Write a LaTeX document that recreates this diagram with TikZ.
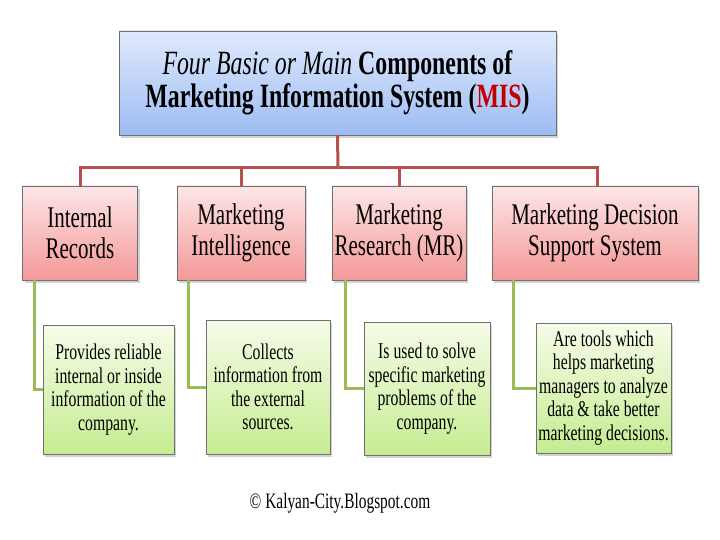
\documentclass[tikz,border=0pt]{standalone}
\usepackage{fontspec}
\setmainfont[FakeStretch=0.7]{Liberation Serif}
\usepackage{tikz}
\usetikzlibrary{shadows}
\definecolor{head_top}{RGB}{224,234,252}
\definecolor{head_bot}{RGB}{157,188,244}
\definecolor{comp_top}{RGB}{253,230,230}
\definecolor{comp_bot}{RGB}{244,152,152}
\definecolor{info_top}{RGB}{246,252,232}
\definecolor{info_bot}{RGB}{198,236,146}
\definecolor{edge_gray}{RGB}{112,112,112}
\definecolor{edge_red}{RGB}{184,80,77}
\definecolor{edge_green}{RGB}{155,187,89}
\definecolor{mis_red}{RGB}{192,0,0}

\begin{document}
\begin{tikzpicture}[x=1pt,y=-1pt,line join=miter]
    \tikzstyle{box}=[draw=edge_gray, line width=0.8pt, inner sep=0pt, align=center, text=black, drop shadow={shadow xshift=2pt,shadow yshift=-3pt,opacity=0.35}]
    \tikzstyle{head}=[style=box, top color=head_top, bottom color=head_bot, minimum width=437pt, minimum height=104pt, font=\fontsize{34}{33}\selectfont]
    \tikzstyle{comp}=[style=box, top color=comp_top, bottom color=comp_bot, minimum height=94pt, font=\fontsize{30}{31}\selectfont]
    \tikzstyle{info}=[style=box, top color=info_top, bottom color=info_bot, font=\fontsize{22.5}{23.5}\selectfont]
    \tikzstyle{bus}=[edge_red, line width=3pt]
    \tikzstyle{link}=[edge_green, line width=3pt]

    \useasboundingbox (0,0) rectangle (720,540);

    \node[head] (mis) at (337.5,83) {\textit{Four Basic or Main} \textbf{Components of}\\\textbf{Marketing Information System (\textcolor{mis_red}{MIS})}};

    \node[comp,minimum width=115pt] (r1) at (80,233)  {Internal\\Records};
    \node[comp,minimum width=128pt] (r2) at (241,233) {Marketing\\Intelligence};
    \node[comp,minimum width=134pt] (r3) at (399,233) {Marketing\\Research (MR)};
    \node[comp,minimum width=206pt] (r4) at (595,233) {Marketing Decision\\Support System};

    \node[info,minimum width=131pt,minimum height=129pt] (g1) at (108.5,389.5) {Provides reliable\\internal or inside\\information of the\\company.};
    \node[info,minimum width=124pt,minimum height=134pt] (g2) at (268,387)   {Collects\\information from\\the external\\sources.};
    \node[info,minimum width=126pt,minimum height=133pt] (g3) at (427,388.5) {Is used to solve\\specific marketing\\problems of the\\company.};
    \node[info,minimum width=135pt,minimum height=130pt] (g4) at (603.5,388) {Are tools which\\helps marketing\\managers to analyze\\data \& take better\\marketing decisions.};

    \node[font=\fontsize{22}{24}\selectfont] (site) at (340,503) {© Kalyan-City.Blogspot.com};

    \coordinate (bus) at (338,168);
    \draw[bus] (mis.south) -- (bus);
    \draw[bus] (bus) -| (r1.north);
    \draw[bus] (bus) -| (r2.north);
    \draw[bus] (bus) -| (r3.north);
    \draw[bus] (bus) -| ([xshift=2pt]r4.north);

    \draw[link] ([xshift=12pt]r1.south west) |- (g1.west);
    \draw[link] ([xshift=12pt]r2.south west) |- (g2.west);
    \draw[link] ([xshift=14pt]r3.south west) |- (g3.west);
    \draw[link] ([xshift=22pt]r4.south west) |- (g4.west);
\end{tikzpicture}
\end{document}
